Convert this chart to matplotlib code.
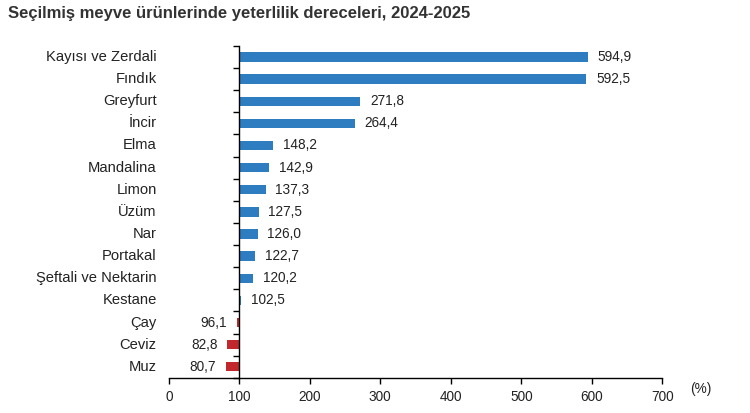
import matplotlib.pyplot as plt
import matplotlib.transforms as mtransforms
import numpy as np

plt.rcParams["font.family"] = ["Liberation Sans", "DejaVu Sans"]

# Data
categories = [
    "Kayısı ve Zerdali", "Fındık", "Greyfurt", "İncir", "Elma", "Mandalina",
    "Limon", "Üzüm", "Nar", "Portakal", "Şeftali ve Nektarin", "Kestane",
    "Çay", "Ceviz", "Muz",
]
values = [594.9, 592.5, 271.8, 264.4, 148.2, 142.9, 137.3, 127.5, 126.0,
          122.7, 120.2, 102.5, 96.1, 82.8, 80.7]
xticks = [0, 100, 200, 300, 400, 500, 600, 700]

BASE = 100
BLUE = "#2F7DC1"
RED = "#C0282D"
TEXT = "#222222"

fig = plt.figure(figsize=(7.5, 4.13), dpi=100)
ax = fig.add_axes([0.225, 0.085, 0.658, 0.804])

y = np.arange(len(categories))
colors = [BLUE if v >= BASE else RED for v in values]
ax.barh(y, np.array(values) - BASE, left=BASE, height=0.42, color=colors)

ax.set_xlim(0, 700)
ax.set_ylim(len(categories) - 0.5, -0.5)

# value labels
for yi, v in zip(y, values):
    lab = f"{v:.1f}".replace(".", ",")
    if v >= BASE:
        ax.annotate(lab, (v, yi), xytext=(7, 0), textcoords="offset points",
                    ha="left", va="center", fontsize=9.8, color=TEXT)
    else:
        ax.annotate(lab, (v, yi), xytext=(-7, 0), textcoords="offset points",
                    ha="right", va="center", fontsize=9.8, color=TEXT)

# category labels on the left
trans = mtransforms.blended_transform_factory(fig.transFigure, ax.transData)
for yi, c in zip(y, categories):
    ax.text(0.209, yi, c, transform=trans, ha="right", va="center",
            fontsize=10.6, color=TEXT)

# spines
for s in ["top", "right"]:
    ax.spines[s].set_visible(False)
ax.spines["left"].set_position(("data", BASE))
ax.spines["left"].set_linewidth(1.0)
ax.spines["bottom"].set_linewidth(1.0)

ax.set_yticks(np.arange(len(categories) + 1) - 0.5)
ax.set_yticklabels([])
ax.tick_params(axis="y", direction="out", length=4, width=1)

ax.set_xticks(xticks)
ax.set_xticklabels([str(t) for t in xticks])
ax.tick_params(axis="x", direction="out", length=4, width=1,
               labelsize=9.8, labelcolor=TEXT, pad=5)

fig.text(0.92, 0.058, "(%)", fontsize=9.8, color=TEXT, ha="left", va="center")
fig.text(0.011, 0.968, "Seçilmiş meyve ürünlerinde yeterlilik dereceleri, 2024-2025",
         fontsize=12, fontweight="bold", color="#333333", ha="left", va="center")

fig.savefig("out.png", dpi=100)
